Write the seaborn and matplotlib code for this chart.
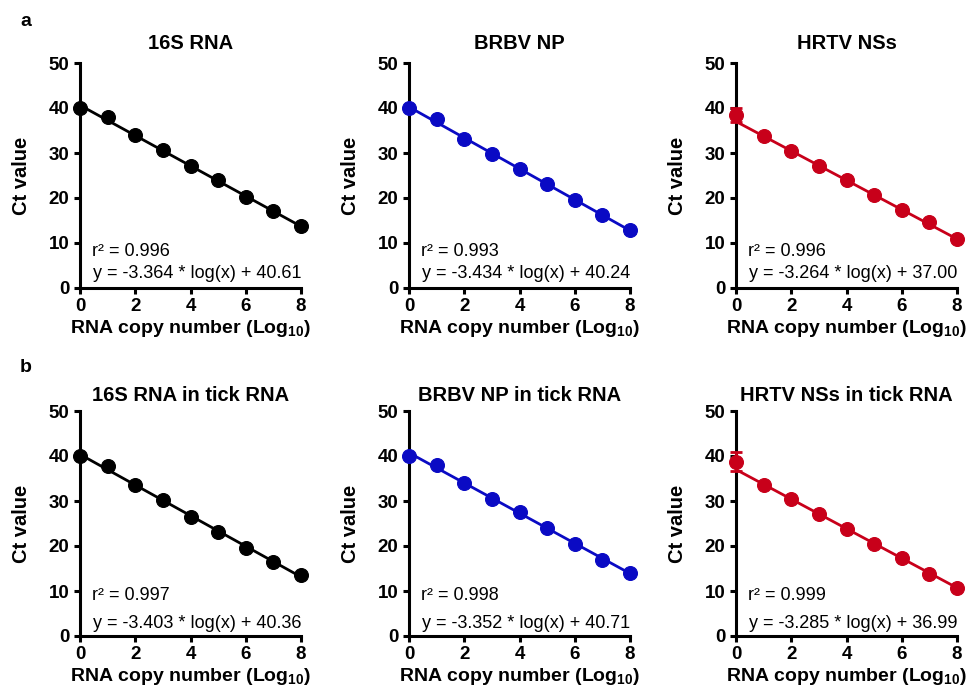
"""
Standard curves: Ct value vs RNA copy number (log10), six panels.
"""
import numpy as np
import pandas as pd
import seaborn as sns
import matplotlib.pyplot as plt

log_copies = [0, 1, 2, 3, 4, 5, 6, 7, 8]

titles = ['16S RNA', 'BRBV NP', 'HRTV NSs',
          '16S RNA in tick RNA', 'BRBV NP in tick RNA', 'HRTV NSs in tick RNA']

ct_16s = [40.1, 38.0, 33.9, 30.6, 27.0, 24.0, 20.2, 17.1, 13.8]
ct_brbv = [40.1, 37.5, 33.1, 29.8, 26.5, 23.0, 19.6, 16.2, 12.8]
ct_hrtv = [38.5, 33.7, 30.5, 27.2, 23.9, 20.6, 17.4, 14.7, 10.9]
ct_16s_tick = [40.1, 37.8, 33.5, 30.2, 26.4, 23.2, 19.5, 16.5, 13.6]
ct_brbv_tick = [40.1, 38.0, 34.1, 30.5, 27.5, 24.0, 20.5, 17.0, 13.9]
ct_hrtv_tick = [38.7, 33.6, 30.4, 27.1, 23.7, 20.5, 17.3, 13.8, 10.7]

sd_16s = [0, 0, 0, 0, 0, 0, 0, 0, 0]
sd_brbv = [0, 0, 0, 0, 0.6, 0, 0, 0, 0.6]
sd_hrtv = [1.6, 0, 0, 0, 0, 0, 0, 0, 0]
sd_16s_tick = [0, 0, 0, 0, 0, 0, 0, 0, 0]
sd_brbv_tick = [0, 0, 0, 0, 0, 0, 0, 0, 0]
sd_hrtv_tick = [2.1, 0, 0, 0, 0, 0, 0, 0, 0]

r2 = [0.996, 0.993, 0.996, 0.997, 0.998, 0.999]
slopes = [-3.364, -3.434, -3.264, -3.403, -3.352, -3.285]
intercepts = [40.61, 40.24, 37.00, 40.36, 40.71, 36.99]

colors = ['black', '#0a0ac4', '#c8001a'] * 2

series = [ct_16s, ct_brbv, ct_hrtv, ct_16s_tick, ct_brbv_tick, ct_hrtv_tick]
sds = [sd_16s, sd_brbv, sd_hrtv, sd_16s_tick, sd_brbv_tick, sd_hrtv_tick]

sns.set_style('ticks')
plt.rcParams['font.family'] = ['Liberation Sans', 'DejaVu Sans']
plt.rcParams.update({
    'text.color': 'black', 'axes.labelcolor': 'black', 'axes.edgecolor': 'black',
    'xtick.color': 'black', 'ytick.color': 'black',
    'mathtext.fontset': 'custom', 'mathtext.rm': 'Liberation Sans',
    'mathtext.bf': 'Liberation Sans:bold',
})

fig = plt.figure(figsize=(9.71, 6.89), dpi=100)

lefts = [80, 409, 736]
bottoms = [288, 636]
W, H = 971, 689
# text rows (r2, equation) differ a little between a and b
txt_y = [(8.0, 3.3), (9.0, 2.8)]
title_pad = [10, 7]

for i in range(6):
    row, col = divmod(i, 3)
    ax = fig.add_axes([lefts[col] / W, (H - bottoms[row]) / H, 221 / W, 225 / H])
    c = colors[i]
    df = pd.DataFrame({'x': log_copies, 'ct': series[i], 'sd': sds[i]})

    xfit = np.array([0, 8])
    fit = pd.DataFrame({'x': xfit, 'y': slopes[i] * xfit + intercepts[i]})
    sns.lineplot(data=fit, x='x', y='y', color=c, lw=2.0, ax=ax, clip_on=False, zorder=3)

    err = df[df['sd'] > 0]
    if len(err):
        ax.errorbar(err['x'], err['ct'], yerr=err['sd'], fmt='none', ecolor=c,
                    elinewidth=2, capsize=4, capthick=2, clip_on=False, zorder=4)
    sns.scatterplot(data=df, x='x', y='ct', color=c, s=100, edgecolor=c,
                    ax=ax, clip_on=False, zorder=5)

    ax.set_xlim(0, 8)
    ax.set_ylim(0, 50)
    ax.set_xticks([0, 2, 4, 6, 8])
    ax.set_yticks([0, 10, 20, 30, 40, 50])
    sns.despine(ax=ax)
    for s in ['left', 'bottom']:
        ax.spines[s].set_linewidth(2.2)
    ax.tick_params(width=2.2, length=4.5, labelsize=13.5, pad=3)
    for lab in ax.get_xticklabels() + ax.get_yticklabels():
        lab.set_fontweight('bold')

    ax.set_title(titles[i], fontsize=14.5, fontweight='bold', pad=title_pad[row])
    ax.set_ylabel('Ct value', fontsize=14.5, fontweight='bold', labelpad=13)
    ax.set_xlabel(r'RNA copy number (Log$_{\mathbf{10}}$)', fontsize=14,
                  fontweight='bold', labelpad=2)

    ax.text(0.43, txt_y[row][0], f'r² = {r2[i]:.3f}', fontsize=13, va='center')
    ax.text(0.48, txt_y[row][1], f'y = {slopes[i]:.3f} * log(x) + {intercepts[i]:.2f}',
            fontsize=13, va='center')

fig.text(20 / W, 1 - 21 / H, 'a', fontsize=14, fontweight='bold', va='center')
fig.text(20 / W, 1 - 368 / H, 'b', fontsize=14, fontweight='bold', va='center')

plt.savefig('out.png', dpi=100)
